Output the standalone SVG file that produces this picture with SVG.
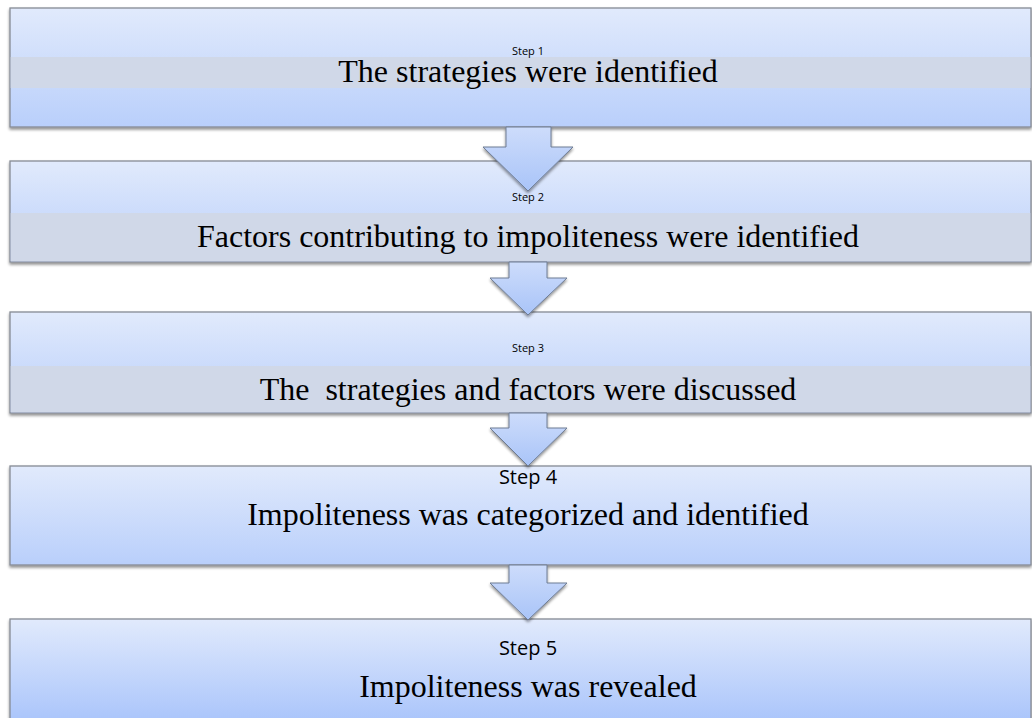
<svg xmlns="http://www.w3.org/2000/svg" width="1032" height="718" viewBox="0 0 1032 718">
<defs>
<linearGradient id="boxg" x1="0" y1="0" x2="0" y2="1">
<stop offset="0" stop-color="#e1eafc"/>
<stop offset="1" stop-color="#b9cffb"/>
</linearGradient>
<linearGradient id="boxg5" x1="0" y1="0" x2="0" y2="1">
<stop offset="0" stop-color="#e1eafc"/>
<stop offset="1" stop-color="#a6c2fb"/>
</linearGradient>
<linearGradient id="arrg" x1="0" y1="0" x2="0" y2="1">
<stop offset="0" stop-color="#cddcfb"/>
<stop offset="1" stop-color="#a9c4f8"/>
</linearGradient>
<filter id="sh" x="-5%" y="-10%" width="110%" height="130%">
<feGaussianBlur in="SourceAlpha" stdDeviation="1.5"/>
<feOffset dx="0" dy="2"/>
<feComponentTransfer><feFuncA type="linear" slope="0.45"/></feComponentTransfer>
<feMerge><feMergeNode/><feMergeNode in="SourceGraphic"/></feMerge>
</filter>
</defs>
<style>
.box{stroke:#868b94;stroke-width:1.3;filter:url(#sh)}
.band{fill:#d0d8e8}
.main{font-family:"Liberation Serif",serif;font-size:32px;fill:#000;text-anchor:middle}
.stepS{font-family:"Open Sans","Liberation Sans",sans-serif;font-size:11px;fill:#000;text-anchor:middle}
.stepL{font-family:"Open Sans","Liberation Sans",sans-serif;font-size:20px;fill:#000;text-anchor:middle}
.arr{fill:url(#arrg);stroke:#6e7c94;stroke-width:1;filter:url(#sh)}
</style>
<rect width="1032" height="718" fill="#fff"/>
<g id="node1">
<rect class="box" x="10" y="8" width="1021" height="119" fill="url(#boxg)"/>
<rect class="band" x="10.7" y="57" width="1019.6" height="31"/>
<text class="stepS" x="528" y="55">Step 1</text>
<text class="main" x="528" y="82">The strategies were identified</text>
</g>
<g id="node2">
<rect class="box" x="10" y="161" width="1021" height="101" fill="url(#boxg)"/>
<rect class="band" x="10.7" y="213" width="1019.6" height="48.3"/>
<text class="stepS" x="528" y="201">Step 2</text>
<text class="main" x="528" y="247">Factors contributing to impoliteness were identified</text>
</g>
<g id="node3">
<rect class="box" x="10" y="312" width="1021" height="101" fill="url(#boxg)"/>
<rect class="band" x="10.7" y="366" width="1019.6" height="46.3"/>
<text class="stepS" x="528" y="352">Step 3</text>
<text class="main" x="528" y="400" xml:space="preserve">The  strategies and factors were discussed</text>
</g>
<g id="node4">
<rect class="box" x="10" y="466" width="1021" height="99" fill="url(#boxg)"/>
<text class="stepL" x="528" y="484">Step 4</text>
<text class="main" x="528" y="525">Impoliteness was categorized and identified</text>
</g>
<g id="node5">
<rect class="box" x="10" y="619" width="1021" height="110" fill="url(#boxg5)"/>
<text class="stepL" x="528" y="655">Step 5</text>
<text class="main" x="528" y="697">Impoliteness was revealed</text>
</g>
<g id="connectors">
<path class="arr" d="M506,127 L551,127 L551,147 L573,147 L528,191 L483,147 L506,147 Z"/>
<path class="arr" d="M509,262 L547,262 L547,278 L567,278 L528,315 L490,278 L509,278 Z"/>
<path class="arr" d="M509,413 L547,413 L547,428 L567,428 L528,466 L490,428 L509,428 Z"/>
<path class="arr" d="M509,565 L547,565 L547,583 L567,583 L528,620 L490,583 L509,583 Z"/>
</g>
</svg>
